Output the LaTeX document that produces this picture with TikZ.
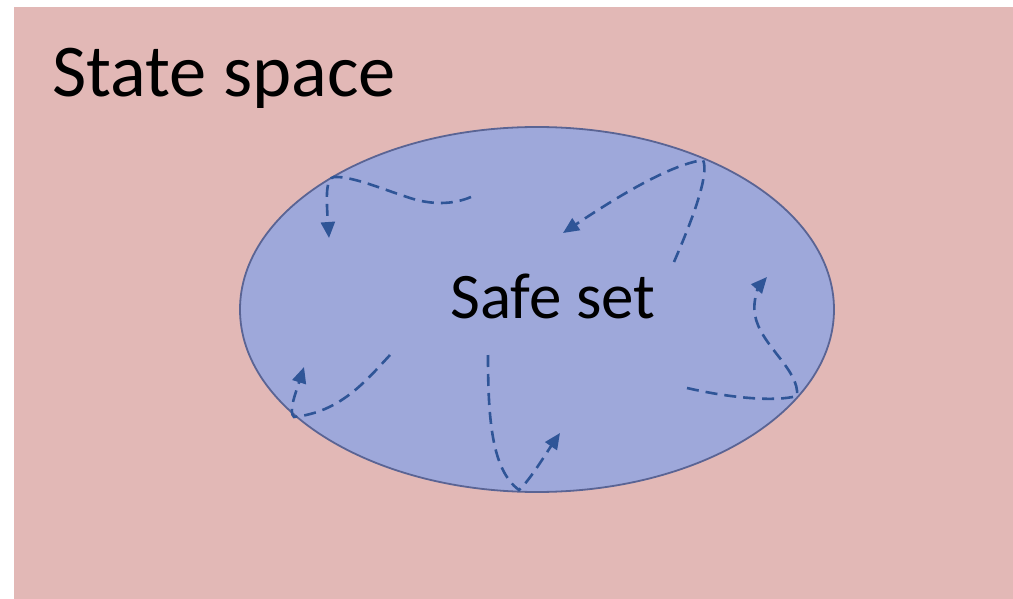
\documentclass[tikz,border=0pt]{standalone}
\usepackage{fontspec}
\setmainfont{Carlito}
\usetikzlibrary{arrows.meta}
\definecolor{spacepink}{HTML}{E2B8B6}
\definecolor{setfill}{HTML}{9EA8DA}
\definecolor{setedge}{HTML}{5A6494}
\definecolor{trajblue}{HTML}{2F5597}
\tikzset{
  traj/.style={draw=trajblue, line width=2.6pt, dash pattern=on 12pt off 7pt,
    -{Triangle[length=16pt,width=14pt]}},
  bigtext/.style={font=\fontsize{74.5}{82}\selectfont, inner sep=0pt, anchor=base west},
  midtext/.style={font=\fontsize{65}{72}\selectfont, inner sep=0pt, anchor=base west},
}
\begin{document}
\begin{tikzpicture}[x=1pt,y=-1pt]
  \useasboundingbox (0,0) rectangle (1013,599);
  % state space background
  \fill[spacepink] (14,7) rectangle (1013,599);
  \node[bigtext] (statespace) at (52,97) {State space};
  % safe set
  \draw[setedge, fill=setfill, line width=1.8pt] (537,309.5) ellipse [x radius=297, y radius=182.5];
  \node[midtext] (safeset) at (450,318) {Safe set};
  % trajectories bouncing off the boundary
  \coordinate (a0) at (471,197);
  \coordinate (a1) at (329,238);
  \path[traj] (a0) .. controls (452,205) and (430,205) .. (407,197)
    .. controls (385,190) and (352,176) .. (334,177)
    .. controls (326,178) and (326,195) .. (a1);
  \coordinate (b0) at (674,262);
  \coordinate (b1) at (563,233);
  \path[traj] (b0) .. controls (690,225) and (710,175) .. (703,160)
    .. controls (670,165) and (620,195) .. (b1);
  \coordinate (c0) at (390,355);
  \coordinate (c1) at (304,367);
  \path[traj] (c0) .. controls (365,382) and (340,412) .. (294,417)
    .. controls (288,412) and (296,392) .. (c1);
  \coordinate (d0) at (488,355);
  \coordinate (d1) at (560,433);
  \path[traj] (d0) .. controls (488,420) and (492,470) .. (519,490)
    .. controls (530,480) and (545,455) .. (d1);
  \coordinate (e0) at (687,388);
  \coordinate (e1) at (767,277);
  \path[traj] (e0) .. controls (730,398) and (775,402) .. (797,396)
    .. controls (800,370) and (760,345) .. (755,315)
    .. controls (752,300) and (760,285) .. (e1);
\end{tikzpicture}
\end{document}
